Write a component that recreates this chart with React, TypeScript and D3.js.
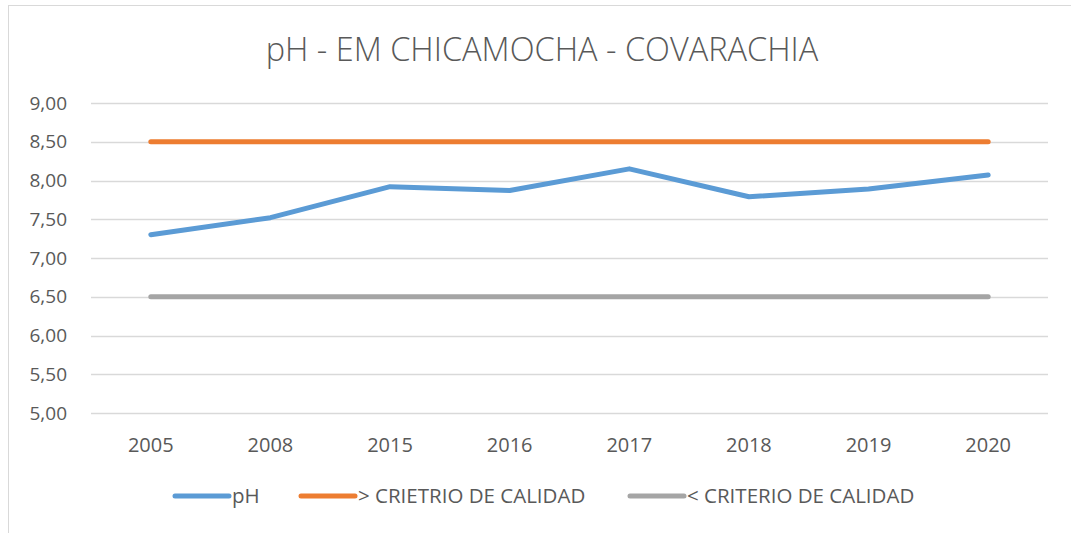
import React, { useEffect, useRef } from 'react';
import * as d3 from 'd3';

const years = ['2005', '2008', '2015', '2016', '2017', '2018', '2019', '2020'];
const phValues = [7.3, 7.52, 7.92, 7.87, 8.15, 7.79, 7.89, 8.07];
const upperLimit = [8.5, 8.5, 8.5, 8.5, 8.5, 8.5, 8.5, 8.5];
const lowerLimit = [6.5, 6.5, 6.5, 6.5, 6.5, 6.5, 6.5, 6.5];
const yTicks = [5, 5.5, 6, 6.5, 7, 7.5, 8, 8.5, 9];
const seriesNames = ['pH', '> CRIETRIO DE CALIDAD', '< CRITERIO DE CALIDAD'];
const seriesColors = ['#5b9bd5', '#ed7d31', '#a5a5a5'];

const W = 1071;
const H = 533;
const FONT = '"Open Sans", sans-serif';

const App = () => {
  const ref = useRef<SVGSVGElement>(null);

  useEffect(() => {
    const svg = d3.select(ref.current);
    svg.selectAll('*').remove();

    const left = 91;
    const right = 1048;
    const top = 103;
    const bottom = 413;

    svg.append('rect').attr('width', W).attr('height', H).attr('fill', '#fff');
    svg
      .append('rect')
      .attr('x', 8.5)
      .attr('y', 5.5)
      .attr('width', W + 20)
      .attr('height', H + 20)
      .attr('fill', 'none')
      .attr('stroke', '#d9d9d9');

    const x = d3.scaleBand().domain(years).range([left, right]);
    const y = d3.scaleLinear().domain([5, 9]).range([bottom, top]);
    const cx = (d: string) => (x(d) as number) + x.bandwidth() / 2;

    // grid
    svg
      .append('g')
      .selectAll('line')
      .data(yTicks)
      .enter()
      .append('line')
      .attr('x1', left)
      .attr('x2', right)
      .attr('y1', (d) => Math.round(y(d)) + 0.5)
      .attr('y2', (d) => Math.round(y(d)) + 0.5)
      .attr('stroke', '#d9d9d9')
      .attr('stroke-width', 1.5);

    // y labels
    svg
      .append('g')
      .selectAll('text')
      .data(yTicks)
      .enter()
      .append('text')
      .attr('x', 67)
      .attr('y', (d) => y(d))
      .attr('dy', '0.35em')
      .attr('text-anchor', 'end')
      .attr('font-family', FONT)
      .attr('font-size', 19)
      .attr('fill', '#595959')
      .text((d) => d.toFixed(2).replace('.', ','));

    // x labels
    svg
      .append('g')
      .selectAll('text')
      .data(years)
      .enter()
      .append('text')
      .attr('x', (d) => cx(d))
      .attr('y', 452)
      .attr('text-anchor', 'middle')
      .attr('font-family', FONT)
      .attr('font-size', 20)
      .attr('fill', '#595959')
      .text((d) => d);

    const line = d3
      .line<number>()
      .x((_, i) => cx(years[i]))
      .y((d) => y(d));

    [lowerLimit, upperLimit, phValues].forEach((vals) => {
      const idx = vals === phValues ? 0 : vals === upperLimit ? 1 : 2;
      svg
        .append('path')
        .datum(vals)
        .attr('d', line)
        .attr('fill', 'none')
        .attr('stroke', seriesColors[idx])
        .attr('stroke-width', 5)
        .attr('stroke-linecap', 'round')
        .attr('stroke-linejoin', 'round');
    });

    // title
    svg
      .append('text')
      .attr('x', 542)
      .attr('y', 61)
      .attr('text-anchor', 'middle')
      .attr('font-family', FONT)
      .attr('font-size', 32.5)
      .attr('font-weight', 300)
      .attr('fill', '#595959')
      .text('pH - EM CHICAMOCHA - COVARACHIA');

    // legend
    const legendX = [175, 301, 630];
    const lg = svg
      .append('g')
      .selectAll('g')
      .data(seriesNames)
      .enter()
      .append('g')
      .attr('transform', (_, i) => `translate(${legendX[i]},496)`);
    lg.append('line')
      .attr('x1', 0)
      .attr('x2', 54)
      .attr('stroke', (_, i) => seriesColors[i])
      .attr('stroke-width', 5)
      .attr('stroke-linecap', 'round');
    lg.append('text')
      .attr('x', 57)
      .attr('dy', '0.35em')
      .attr('font-family', FONT)
      .attr('font-size', 20.5)
      .attr('fill', '#595959')
      .text((d) => d);
  }, []);

  return <svg ref={ref} width={W} height={H} style={{ position: 'absolute', left: 0, top: 0 }}></svg>;
};

export default App;
